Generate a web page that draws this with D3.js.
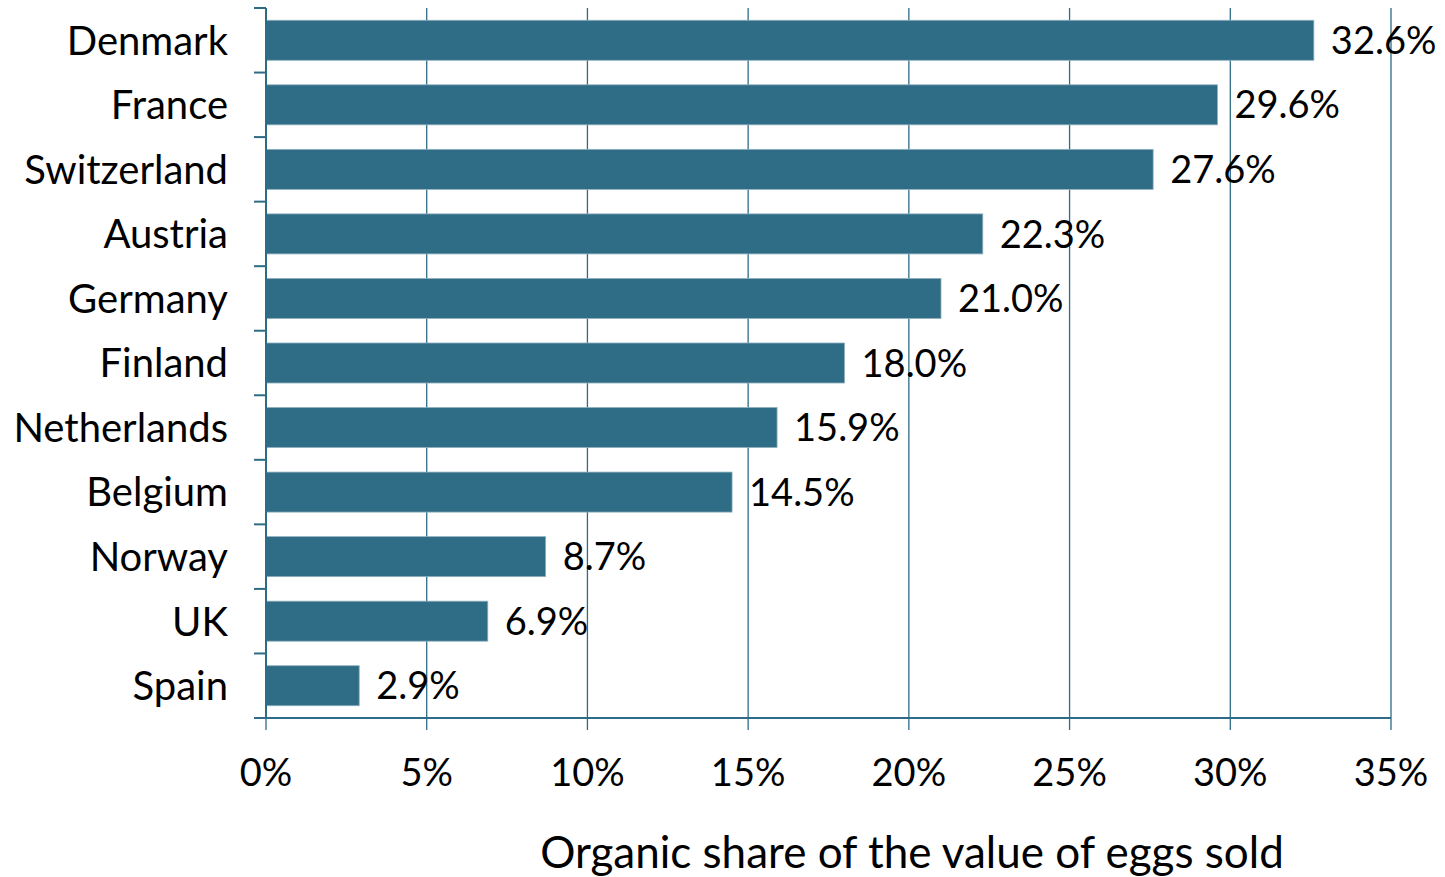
<!DOCTYPE html>
<meta charset="utf-8">
<style>
body { margin: 0; background: #fff; }
text { font-family: Lato, "Open Sans", sans-serif; fill: #000; }
.grid line { stroke: #2e6b85; stroke-width: 1.3px; }
.axis path, .axis line { stroke: #2e6b85; stroke-width: 2px; }
</style>
<svg width="1445" height="877"></svg>
<script src="https://d3js.org/d3.v7.min.js"></script>
<script>

var countries = ["Denmark", "France", "Switzerland", "Austria", "Germany", "Finland",
                 "Netherlands", "Belgium", "Norway", "UK", "Spain"];
var shares = [32.6, 29.6, 27.6, 22.3, 21.0, 18.0, 15.9, 14.5, 8.7, 6.9, 2.9];
var xTicks = [0, 5, 10, 15, 20, 25, 30, 35];
var xTitle = "Organic share of the value of eggs sold";

var svg = d3.select("svg"),
    plotLeft = 266, plotRight = 1391, plotTop = 8, plotBottom = 718;

var x = d3.scaleLinear().domain([0, 35]).range([plotLeft, plotRight]);
var y = d3.scaleBand().domain(countries).range([plotTop, plotBottom]).paddingInner(0.38).paddingOuter(0.19);

// vertical gridlines (they run a bit past the axis as tick marks)
svg.append("g").attr("class", "grid")
  .selectAll("line")
  .data(xTicks)
  .enter().append("line")
    .attr("x1", function(d) { return x(d); })
    .attr("x2", function(d) { return x(d); })
    .attr("y1", plotTop)
    .attr("y2", plotBottom + 12);

// bars
svg.append("g")
  .selectAll("rect")
  .data(shares)
  .enter().append("rect")
    .attr("x", x(0))
    .attr("y", function(d, i) { return y(countries[i]); })
    .attr("width", function(d) { return x(d) - x(0); })
    .attr("height", y.bandwidth())
    .attr("fill", "#2f6c85")
    .attr("stroke", "#8fb0bf")
    .attr("stroke-width", 0.8);

// value labels
svg.append("g")
  .selectAll("text")
  .data(shares)
  .enter().append("text")
    .attr("x", function(d) { return x(d) + 17; })
    .attr("y", function(d, i) { return y(countries[i]) + y.bandwidth() / 2; })
    .attr("dy", "0.36em")
    .style("font-size", "38px")
    .text(function(d) { return d.toFixed(1) + "%"; });

// left axis: line + ticks at category boundaries
var bounds = d3.range(countries.length + 1).map(function(i) {
  return plotTop + i * (plotBottom - plotTop) / countries.length;
});
var ax = svg.append("g").attr("class", "axis");
ax.append("line").attr("x1", plotLeft).attr("x2", plotLeft).attr("y1", plotTop).attr("y2", plotBottom);
ax.selectAll(".tk").data(bounds).enter().append("line")
    .attr("x1", plotLeft - 12).attr("x2", plotLeft)
    .attr("y1", function(d) { return d; }).attr("y2", function(d) { return d; });
ax.append("line").attr("x1", plotLeft).attr("x2", plotRight).attr("y1", plotBottom).attr("y2", plotBottom);

// category labels
svg.append("g")
  .selectAll("text")
  .data(countries)
  .enter().append("text")
    .attr("x", 228)
    .attr("y", function(d) { return y(d) + y.bandwidth() / 2; })
    .attr("dy", "0.36em")
    .attr("text-anchor", "end")
    .style("font-size", "40px")
    .text(function(d) { return d; });

// x tick labels
svg.append("g")
  .selectAll("text")
  .data(xTicks)
  .enter().append("text")
    .attr("x", function(d) { return x(d); })
    .attr("y", 772)
    .attr("dy", "0.36em")
    .attr("text-anchor", "middle")
    .style("font-size", "38px")
    .text(function(d) { return d + "%"; });

svg.append("text")
    .attr("x", 912)
    .attr("y", 852)
    .attr("dy", "0.36em")
    .attr("text-anchor", "middle")
    .style("font-size", "44px")
    .text(xTitle);

</script>
